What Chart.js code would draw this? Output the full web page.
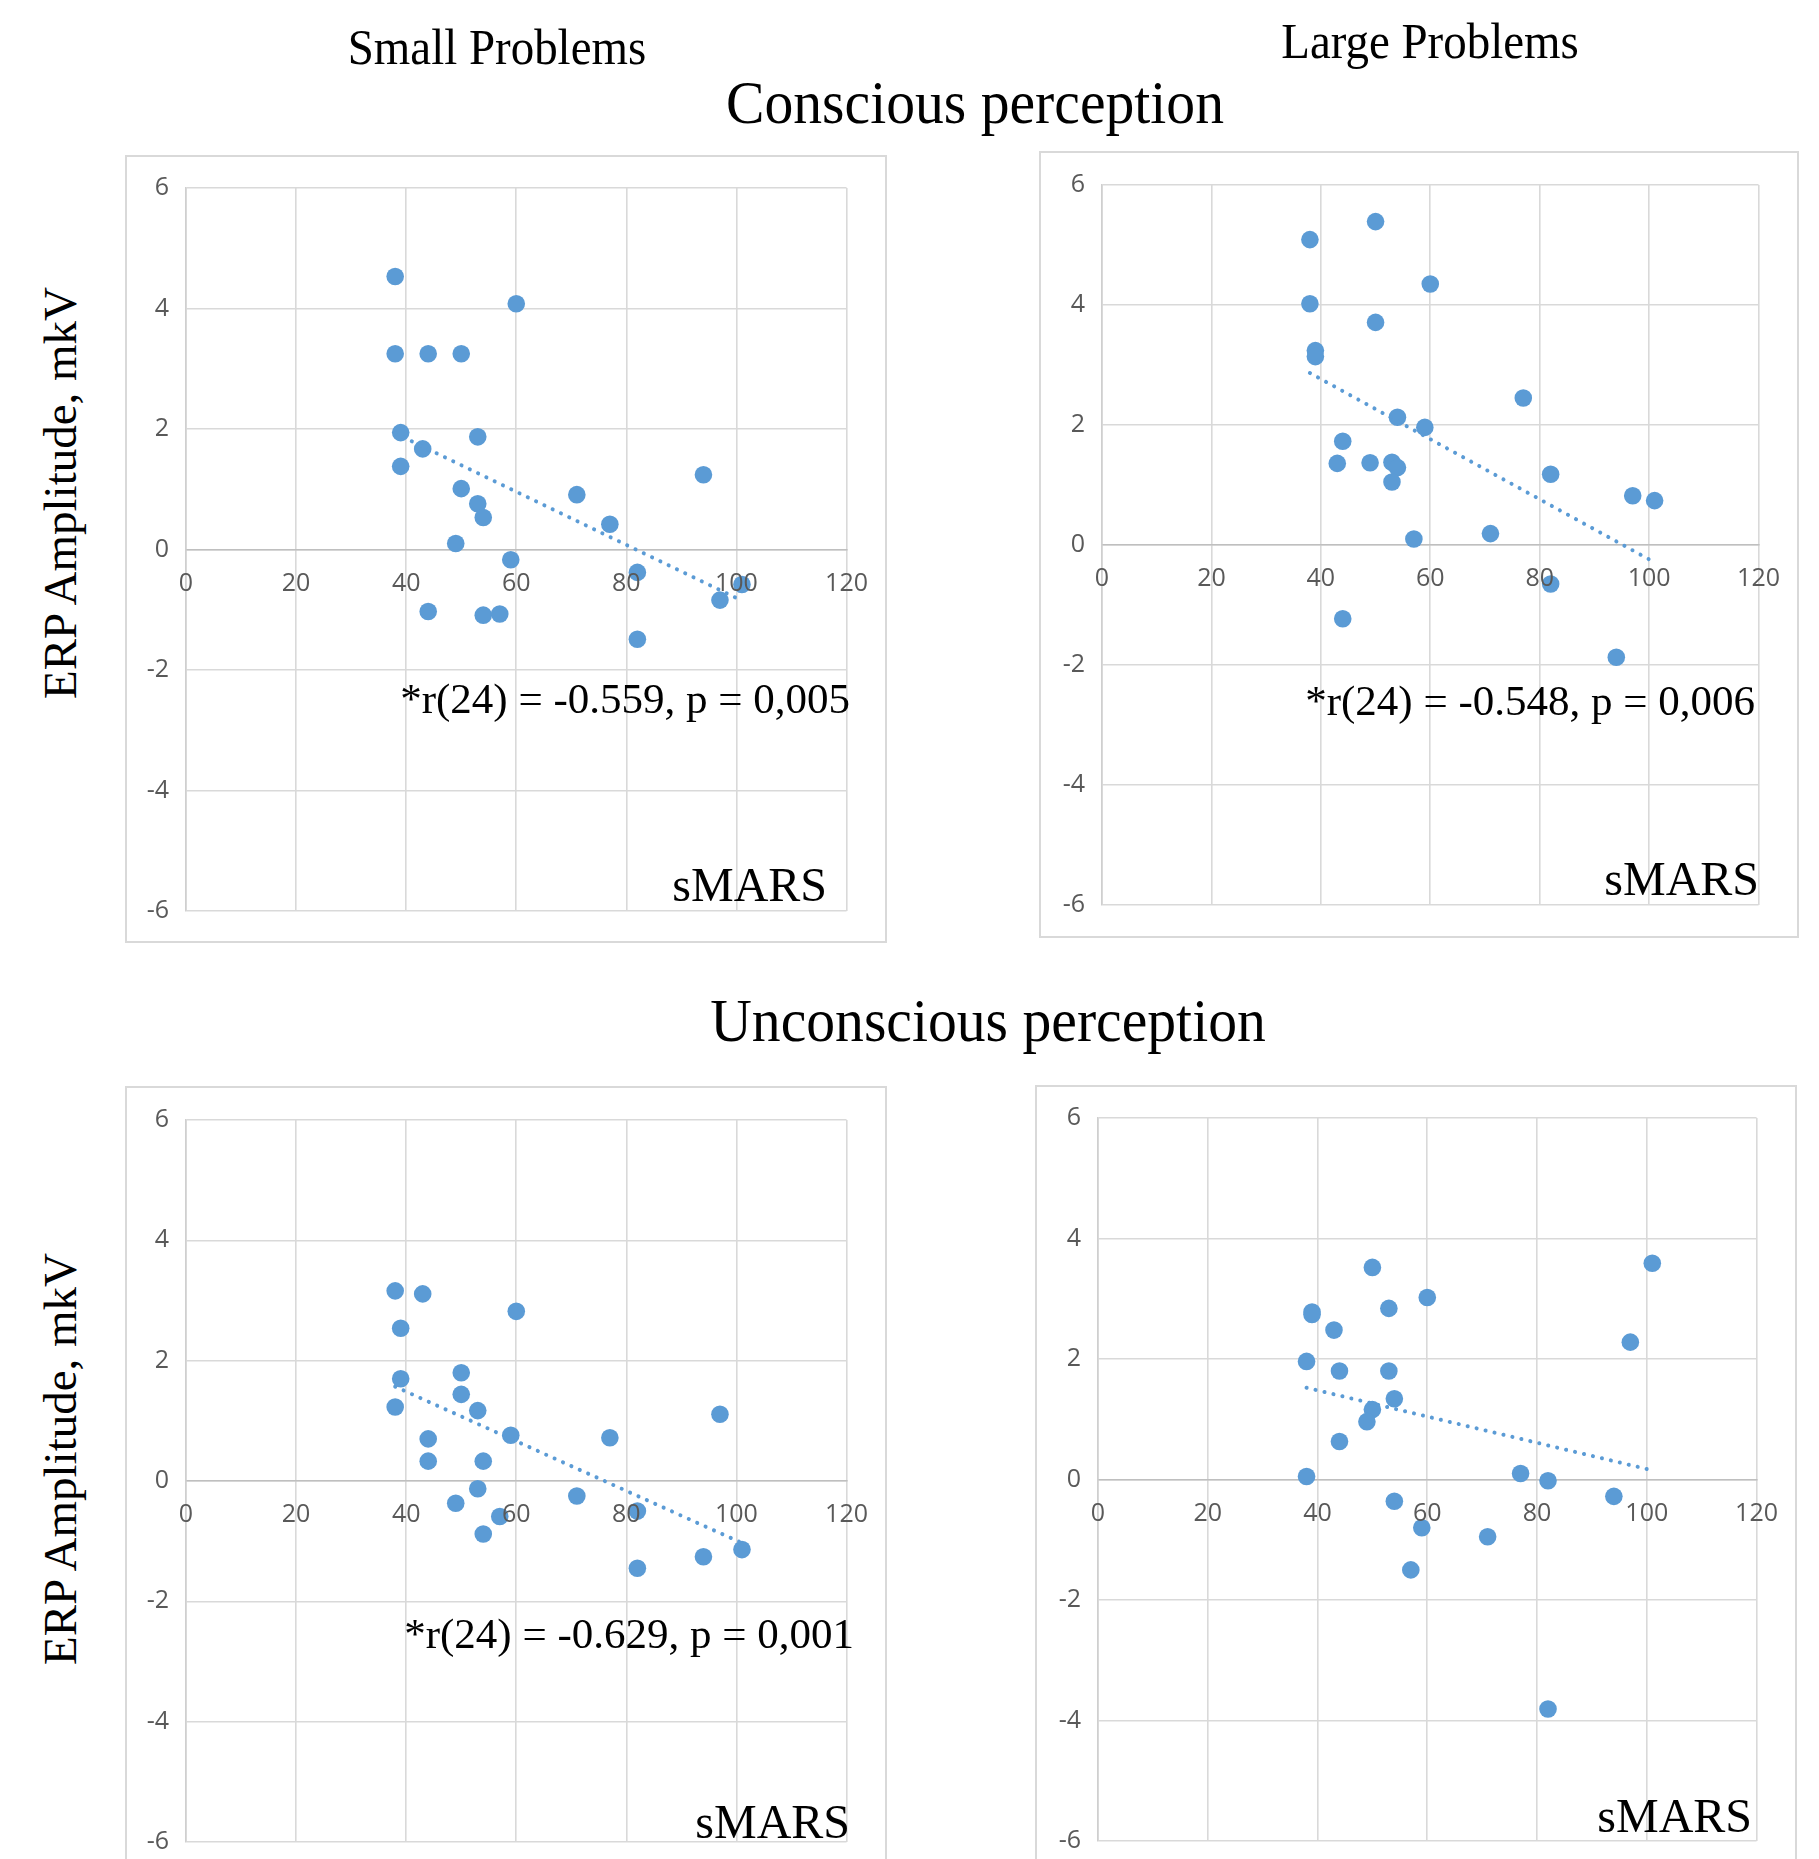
<!DOCTYPE html>
<html>
<head>
<meta charset="utf-8">
<script src="https://cdn.jsdelivr.net/npm/chart.js@4.4.0/dist/chart.umd.min.js"></script>
<style>
  html, body { margin: 0; padding: 0; background: #fff; }
  body { width: 1819px; height: 1859px; position: relative; overflow: hidden;
         font-family: "Liberation Serif", "Times New Roman", serif; color: #000; }
  .frame { position: absolute; outline: 2px solid #d9d9d9; outline-offset: -2px; }
  .frame canvas { position: absolute; left: 0; top: 0; }
  .txt { position: absolute; white-space: nowrap; line-height: 1; }
</style>
</head>
<body>
<script>
// axis ticks
const xTickValues = [0, 20, 40, 60, 80, 100, 120];
const yTickValues = [-6, -4, -2, 0, 2, 4, 6];

// Small problems, conscious perception
const smallConsciousX = [38, 60, 38, 44, 50, 39, 53, 43, 39, 94, 50, 71, 53, 54, 77, 49, 59, 82, 101, 97, 44, 54, 57, 82];
const smallConsciousY = [4.53, 4.08, 3.25, 3.25, 3.25, 1.94, 1.87, 1.67, 1.38, 1.24, 1.01, 0.91, 0.76, 0.53, 0.42, 0.10, -0.17, -0.38, -0.58, -0.84, -1.03, -1.09, -1.07, -1.49];

// Large problems, conscious perception
const largeConsciousX = [50, 38, 60, 38, 50, 39, 39, 77, 54, 59, 44, 43, 49, 53, 54, 53, 82, 97, 101, 71, 57, 82, 44, 94];
const largeConsciousY = [5.39, 5.09, 4.35, 4.02, 3.71, 3.24, 3.14, 2.45, 2.13, 1.96, 1.73, 1.36, 1.37, 1.38, 1.29, 1.05, 1.18, 0.82, 0.74, 0.19, 0.10, -0.65, -1.23, -1.87];

// Small problems, unconscious perception
const smallUnconsciousX = [38, 43, 60, 39, 50, 39, 50, 38, 53, 97, 59, 77, 44, 44, 54, 53, 71, 49, 82, 57, 54, 101, 94, 82];
const smallUnconsciousY = [3.16, 3.11, 2.82, 2.54, 1.80, 1.70, 1.44, 1.23, 1.17, 1.11, 0.76, 0.72, 0.70, 0.33, 0.33, -0.13, -0.25, -0.37, -0.50, -0.59, -0.88, -1.14, -1.26, -1.45];

// Large problems, unconscious perception (two points nearly coincide at 39)
const largeUnconsciousX = [101, 50, 60, 53, 39, 39, 43, 97, 38, 44, 53, 54, 50, 49, 44, 38, 77, 82, 94, 54, 59, 71, 57, 82];
const largeUnconsciousY = [3.59, 3.52, 3.02, 2.84, 2.78, 2.74, 2.48, 2.28, 1.96, 1.80, 1.80, 1.34, 1.16, 0.96, 0.63, 0.05, 0.10, -0.02, -0.28, -0.36, -0.80, -0.95, -1.50, -3.81];

const blue = '#5B9BD5';
const tickFont = { family: '"Open Sans", "DejaVu Sans", sans-serif', size: 25 };

// least squares line over the data range, like the Excel trendline
function trendLine(xs, ys) {
    const n = xs.length;
    const mx = xs.reduce((a, b) => a + b, 0) / n;
    const my = ys.reduce((a, b) => a + b, 0) / n;
    let sxy = 0, sxx = 0;
    xs.forEach((x, i) => {
        sxy += (x - mx) * (ys[i] - my);
        sxx += (x - mx) * (x - mx);
    });
    const b = sxy / sxx;
    const a = my - b * mx;
    const x0 = Math.min(...xs), x1 = Math.max(...xs);
    return [{ x: x0, y: a + b * x0 }, { x: x1, y: a + b * x1 }];
}

function panel(p) {
    const box = document.createElement('div');
    box.className = 'frame';
    box.style.left = p.left + 'px';
    box.style.top = p.top + 'px';
    box.style.width = p.w + 'px';
    box.style.height = p.h + 'px';
    const cv = document.createElement('canvas');
    cv.width = p.w;
    cv.height = p.h;
    box.appendChild(cv);
    document.body.appendChild(box);

    const points = p.xs.map((x, i) => ({ x: x, y: p.ys[i] }));

    new Chart(cv, {
        type: 'scatter',
        data: {
            datasets: [
                {
                    data: trendLine(p.xs, p.ys),
                    showLine: true,
                    borderColor: blue,
                    borderWidth: 4,
                    borderDash: [0.1, 9.1],
                    borderCapStyle: 'round',
                    pointRadius: 0,
                    order: 0
                },
                {
                    data: points,
                    backgroundColor: blue,
                    borderColor: blue,
                    borderWidth: 0,
                    pointRadius: 8.8,
                    pointHoverRadius: 8.8,
                    order: 1
                }
            ]
        },
        options: {
            responsive: false,
            animation: false,
            events: [],
            layout: { padding: { left: 0, top: p.pad[0], right: p.pad[1], bottom: p.pad[2] } },
            plugins: { legend: { display: false }, tooltip: { enabled: false } },
            scales: {
                x: {
                    type: 'linear',
                    position: { y: 0 },
                    min: 0,
                    max: 120,
                    afterBuildTicks: ax => { ax.ticks = xTickValues.map(v => ({ value: v })); },
                    grid: { color: '#d9d9d9', lineWidth: 1.6, drawTicks: false },
                    border: { color: '#bfbfbf', width: 1.6 },
                    ticks: { color: '#595959', font: tickFont, padding: 19, maxRotation: 0, autoSkip: false, z: 1 }
                },
                y: {
                    type: 'linear',
                    position: 'left',
                    min: -6,
                    max: 6,
                    afterBuildTicks: ax => { ax.ticks = yTickValues.map(v => ({ value: v })); },
                    afterFit: ax => { ax.width = p.yw; },
                    grid: { color: '#d9d9d9', lineWidth: 1.6, drawTicks: false },
                    border: { color: '#cfcfcf', width: 1.6 },
                    ticks: { color: '#595959', font: tickFont, padding: 17 }
                }
            }
        }
    });
}

panel({ left: 125, top: 155, w: 762, h: 788, yw: 61, pad: [33, 37, 32], xs: smallConsciousX, ys: smallConsciousY });
panel({ left: 1039, top: 151, w: 760, h: 787, yw: 63, pad: [34, 34, 33], xs: largeConsciousX, ys: largeConsciousY });
panel({ left: 125, top: 1086, w: 762, h: 788, yw: 61, pad: [34, 37, 32], xs: smallUnconsciousX, ys: smallUnconsciousY });
panel({ left: 1035, top: 1085, w: 762, h: 788, yw: 63, pad: [33, 33, 32], xs: largeUnconsciousX, ys: largeUnconsciousY });

// text placed by baseline; Liberation Serif baseline sits 0.8375em below the top with line-height 1
function text(str, x, baseline, size, align, sx) {
    const el = document.createElement('div');
    el.className = 'txt';
    el.textContent = str;
    el.style.fontSize = size + 'px';
    el.style.left = x + 'px';
    el.style.top = (baseline - 0.8375 * size) + 'px';
    const shift = align === 'center' ? '-50%' : (align === 'right' ? '-100%' : '0');
    el.style.transformOrigin = align === 'center' ? 'center' : (align === 'right' ? 'right' : 'left');
    el.style.transform = 'translateX(' + shift + ') scaleX(' + (sx || 1) + ')';
    document.body.appendChild(el);
}

function sideLabel(str, cx, cy, size) {
    const el = document.createElement('div');
    el.className = 'txt';
    el.textContent = str;
    el.style.fontSize = size + 'px';
    el.style.left = cx + 'px';
    el.style.top = cy + 'px';
    el.style.transform = 'translate(-50%, -50%) rotate(-90deg)';
    document.body.appendChild(el);
}

text('Small Problems', 497, 65, 51, 'center', 0.92);
text('Large Problems', 1430, 59, 51, 'center', 0.92);
text('Conscious perception', 975, 123, 62, 'center', 0.93);
text('Unconscious perception', 988, 1041, 62, 'center', 0.93);

text('*r(24) = -0.559, p = 0,005', 850, 713, 43, 'right');
text('*r(24) = -0.548, p = 0,006', 1755, 715, 43, 'right');
text('*r(24) = -0.629, p = 0,001', 854, 1648, 43, 'right');

text('sMARS', 827, 901, 48, 'right');
text('sMARS', 1759, 895, 48, 'right');
text('sMARS', 850, 1838, 48, 'right');
text('sMARS', 1752, 1832, 48, 'right');

sideLabel('ERP Amplitude, mkV', 60, 493, 47);
sideLabel('ERP Amplitude, mkV', 60, 1459, 47);
</script>
</body>
</html>
